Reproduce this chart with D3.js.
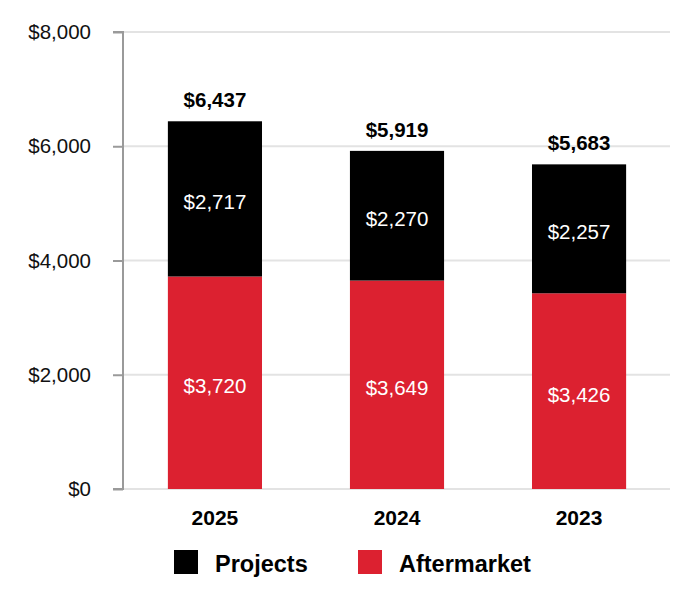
<!DOCTYPE html>
<html>
<head>
<meta charset="utf-8">
<script src="https://cdn.jsdelivr.net/npm/d3@7"></script>
<style>
  body { margin: 0; background: #fff; }
  svg { font-family: "Liberation Sans", Arial, sans-serif; }
</style>
</head>
<body>
<div class="chart"></div>
<script>
const years = ["2025", "2024", "2023"];
const projects = [2717, 2270, 2257];
const aftermarket = [3720, 3649, 3426];
const totals = [6437, 5919, 5683];
const yTicks = [0, 2000, 4000, 6000, 8000];

const series = [
  { key: "Aftermarket", values: aftermarket, color: "#dc2130" },
  { key: "Projects", values: projects, color: "#000000" }
];

const width = 700, height = 600;
const margin = { top: 32, right: 30, bottom: 111, left: 123 };

const svg = d3.select("div.chart").append("svg")
  .attr("width", width)
  .attr("height", height);

// bars ~94px wide, centres at 215/397/579
const x = d3.scaleBand()
  .domain(years)
  .range([124, 670])
  .paddingInner(0.483)
  .paddingOuter(0.241);

const y = d3.scaleLinear()
  .domain([0, 8000])
  .range([height - margin.bottom, margin.top]);

const fmt = d3.format("$,");

// gridlines + baseline
svg.append("g")
  .selectAll("line")
  .data(yTicks)
  .enter()
  .append("line")
  .attr("x1", margin.left)
  .attr("x2", 670)
  .attr("y1", d => y(d))
  .attr("y2", d => y(d))
  .attr("stroke", "#e3e3e3")
  .attr("stroke-width", 2);

// y axis
const yAxis = svg.append("g")
  .attr("transform", `translate(${margin.left},0)`)
  .call(d3.axisLeft(y).tickValues(yTicks).tickFormat(fmt).tickSize(10).tickPadding(22));
yAxis.select(".domain").attr("stroke", "#9a9a9a").attr("stroke-width", 2)
  .attr("d", `M-10,${y(8000)}H0V${y(0)}H-10`);
yAxis.selectAll(".tick line").attr("stroke", "#9a9a9a").attr("stroke-width", 2);
yAxis.selectAll(".tick text")
  .attr("font-size", 20.5)
  .attr("fill", "#111")
  .attr("font-family", "Liberation Sans, Arial, sans-serif");

// stacked bars
const stacked = years.map((yr, i) => {
  let base = 0;
  return series.map(s => {
    const seg = { year: yr, key: s.key, color: s.color, y0: base, y1: base + s.values[i], v: s.values[i] };
    base += s.values[i];
    return seg;
  });
}).flat();

svg.append("g")
  .selectAll("rect")
  .data(stacked)
  .enter()
  .append("rect")
  .attr("x", d => x(d.year))
  .attr("width", x.bandwidth())
  .attr("y", d => y(d.y1))
  .attr("height", d => y(d.y0) - y(d.y1))
  .attr("fill", d => d.color);

// segment labels
svg.append("g")
  .selectAll("text")
  .data(stacked)
  .enter()
  .append("text")
  .attr("x", d => x(d.year) + x.bandwidth() / 2)
  .attr("y", d => (y(d.y0) + y(d.y1)) / 2 + 10.5)
  .attr("text-anchor", "middle")
  .attr("font-size", 20.5)
  .attr("fill", "#fff")
  .text(d => fmt(d.v));

// totals
svg.append("g")
  .selectAll("text")
  .data(years)
  .enter()
  .append("text")
  .attr("x", d => x(d) + x.bandwidth() / 2)
  .attr("y", (d, i) => y(totals[i]) - 14)
  .attr("text-anchor", "middle")
  .attr("font-size", 20.5)
  .attr("font-weight", "bold")
  .attr("fill", "#000")
  .text((d, i) => fmt(totals[i]));

// year labels
svg.append("g")
  .selectAll("text")
  .data(years)
  .enter()
  .append("text")
  .attr("x", d => x(d) + x.bandwidth() / 2)
  .attr("y", y(0) + 36)
  .attr("text-anchor", "middle")
  .attr("font-size", 21)
  .attr("font-weight", "bold")
  .attr("fill", "#000")
  .text(d => d);

// legend
const legendItems = [
  { key: "Projects", color: "#000000", x: 174 },
  { key: "Aftermarket", color: "#dc2130", x: 358 }
];
const lg = svg.append("g").selectAll("g")
  .data(legendItems)
  .enter()
  .append("g")
  .attr("transform", d => `translate(${d.x},550)`);
lg.append("rect")
  .attr("width", 24)
  .attr("height", 24)
  .attr("fill", d => d.color);
lg.append("text")
  .attr("x", 41)
  .attr("y", 22)
  .attr("font-size", 23.5)
  .attr("font-weight", "bold")
  .attr("fill", "#000")
  .text(d => d.key);
</script>
</body>
</html>
